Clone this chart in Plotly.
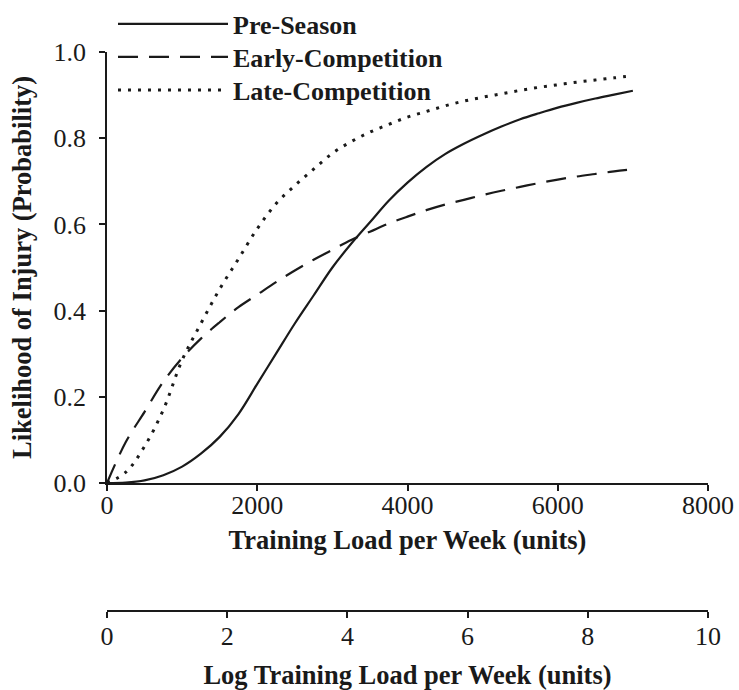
import plotly.graph_objects as go

load = [0, 250, 500, 750, 1000, 1250, 1500, 1750, 2000, 2250, 2500, 2750, 3000,
        3250, 3500, 3750, 4000, 4250, 4500, 4750, 5000, 5250, 5500, 5750, 6000,
        6250, 6500, 6750, 7000]

pre_season = [0.0, 0.001, 0.006, 0.018, 0.038, 0.068, 0.107, 0.16, 0.23, 0.30,
              0.37, 0.435, 0.50, 0.555, 0.605, 0.655, 0.697, 0.733, 0.763, 0.787,
              0.808, 0.827, 0.844, 0.858, 0.871, 0.882, 0.892, 0.901, 0.91]

early_comp = [0.0, 0.095, 0.165, 0.235, 0.29, 0.335, 0.373, 0.408, 0.437, 0.466,
              0.493, 0.518, 0.541, 0.564, 0.583, 0.602, 0.618, 0.633, 0.646, 0.657,
              0.668, 0.678, 0.687, 0.696, 0.704, 0.711, 0.717, 0.723, 0.728]

late_comp = [0.0, 0.025, 0.085, 0.17, 0.285, 0.37, 0.45, 0.52, 0.59, 0.648,
             0.69, 0.728, 0.765, 0.792, 0.814, 0.832, 0.849, 0.862, 0.875, 0.886,
             0.895, 0.903, 0.911, 0.918, 0.924, 0.93, 0.935, 0.94, 0.945]

x_ticks = [0, 2000, 4000, 6000, 8000]
y_ticks = [0.0, 0.2, 0.4, 0.6, 0.8, 1.0]
log_ticks = [0, 2, 4, 6, 8, 10]

FONT = "Liberation Serif"
INK = "#1a1a1a"

fig = go.Figure()
fig.add_trace(go.Scatter(x=load, y=pre_season, mode="lines", name="Pre-Season",
                         legend="legend",
                         line=dict(color=INK, width=2.2, shape="spline")))
fig.add_trace(go.Scatter(x=load, y=early_comp, mode="lines", name="Early-Competition",
                         legend="legend2",
                         line=dict(color=INK, width=2.2, dash="20px,11px", shape="spline")))
fig.add_trace(go.Scatter(x=load, y=late_comp, mode="lines", name="Late-Competition",
                         legend="legend3",
                         line=dict(color=INK, width=3, dash="3px,7px", shape="spline")))
# carrier for the secondary (log) axis: no visible marks
fig.add_trace(go.Scatter(x=log_ticks, y=[None] * len(log_ticks), xaxis="x2", yaxis="y",
                         mode="lines", showlegend=False, hoverinfo="skip"))

axis_common = dict(showline=True, linecolor=INK, linewidth=1.5, ticks="outside",
                   ticklen=6, tickwidth=1.5, tickcolor=INK, showgrid=False,
                   zeroline=False, tickangle=0, automargin=False,
                   tickfont=dict(family=FONT, size=26, color=INK))

title_font = dict(family=FONT, size=26.5, color=INK, weight="bold")
legend_font = dict(family=FONT, size=26, color=INK, weight="bold")
W, H = 739.0, 690.0
ML, MR, MT, MB = 107, 31, 52, 79
legend_common = dict(xref="container", yref="container", x=113 / W,
                     xanchor="left", yanchor="middle", font=legend_font,
                     itemwidth=110, bgcolor="rgba(0,0,0,0)")

fig.update_layout(
    width=W, height=H,
    margin=dict(l=ML, r=MR, t=MT, b=MB, autoexpand=False),
    paper_bgcolor="white", plot_bgcolor="white",
    font=dict(family=FONT, color=INK),
    xaxis=dict(range=[0, 8000], tickvals=x_ticks, ticklabelstandoff=-8,
               title=dict(text="Training Load per Week (units)", font=title_font,
                          standoff=12),
               **axis_common),
    yaxis=dict(range=[0, 1.0], tickvals=y_ticks, tickformat=".1f",
               domain=[0.229, 1.0], ticklabelstandoff=8,
               **axis_common),
    xaxis2=dict(range=[0, 10], tickvals=log_ticks, overlaying="x", anchor="free",
                position=0, side="bottom", ticklabelstandoff=-4,
                title=dict(text="Log Training Load per Week (units)", font=title_font,
                           standoff=19),
                **axis_common),
    legend=dict(y=1 - 24 / H, **legend_common),
    legend2=dict(y=1 - 57 / H, **legend_common),
    legend3=dict(y=1 - 90 / H, **legend_common),
)

plot_w = W - ML - MR
plot_h = H - MT - MB
fig.add_annotation(text="Likelihood of Injury (Probability)", textangle=-90,
                   xref="paper", yref="paper",
                   x=(22 - ML) / plot_w, y=(H - MB - 268) / plot_h,
                   xanchor="center", yanchor="middle", showarrow=False,
                   font=title_font)

fig.write_html("out.html", config={"displayModeBar": False},
               post_script="document.body.style.margin='0';"
                           "document.body.style.overflow='hidden';")
